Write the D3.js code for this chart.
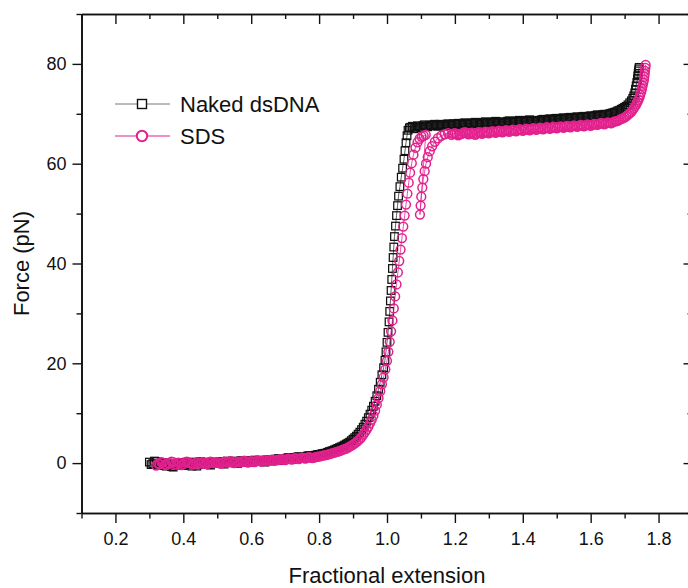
<!DOCTYPE html>
<html>
<head>
<meta charset="utf-8">
<script src="https://cdn.jsdelivr.net/npm/d3@7"></script>
<style>
  html, body { margin: 0; padding: 0; background: #fff; }
  svg { display: block; font-family: "Liberation Sans", Arial, sans-serif; }
  .axis path, .axis line { stroke: #111; }
  .axis text { fill: #111; font-size: 18px; font-family: "Liberation Sans", Arial, sans-serif; }
</style>
</head>
<body>
<svg id="chart" width="688" height="588"></svg>
<script>
// Force–extension traces as [fractional extension, force (pN)] pairs
const nakedPoints = [
  [0.300,0.2],[0.305,-0.3],[0.310,-0.1],[0.315,0.4],[0.320,0.3],[0.325,-0.2],[0.330,-0.4],[0.335,0.0],
  [0.340,0.1],[0.345,-0.5],[0.350,-0.6],[0.355,-0.1],[0.360,-0.3],[0.365,-0.7],[0.370,-0.8],[0.375,-0.4],
  [0.380,-0.2],[0.385,0.0],[0.390,0.1],[0.395,-0.3],[0.400,-0.5],[0.405,-0.1],[0.410,0.2],[0.415,0.0],
  [0.420,-0.3],[0.425,-0.6],[0.430,0.0],[0.435,0.2],[0.440,-0.6],[0.445,-0.2],[0.450,0.3],[0.455,0.0],
  [0.460,-0.2],[0.465,0.2],[0.470,0.1],[0.475,-0.3],[0.480,-0.4],[0.485,0.1],[0.490,0.2],[0.495,-0.1],
  [0.500,0.0],[0.505,0.2],[0.510,0.3],[0.515,0.0],[0.520,-0.2],[0.525,0.2],[0.530,0.4],[0.535,0.1],
  [0.540,0.1],[0.545,0.4],[0.550,0.3],[0.555,0.0],[0.560,-0.1],[0.565,0.3],[0.570,0.5],[0.575,0.2],
  [0.580,0.2],[0.585,0.5],[0.590,0.4],[0.595,0.2],[0.600,0.1],[0.605,0.4],[0.610,0.6],[0.615,0.4],
  [0.620,0.3],[0.625,0.6],[0.630,0.5],[0.635,0.3],[0.640,0.2],[0.645,0.5],[0.650,0.7],[0.655,0.5],
  [0.660,0.4],[0.665,0.7],[0.670,0.6],[0.675,0.8],[0.680,0.9],[0.685,0.6],[0.690,0.5],[0.695,0.8],
  [0.700,0.8],[0.705,1.0],[0.710,1.1],[0.715,0.9],[0.720,0.7],[0.725,1.0],[0.730,1.0],[0.735,1.2],
  [0.740,1.3],[0.745,1.1],[0.750,0.9],[0.755,1.1],[0.760,1.2],[0.765,1.4],[0.770,1.5],[0.775,1.4],
  [0.780,1.4],[0.785,1.5],[0.790,1.6],[0.795,1.7],[0.800,1.7],[0.805,1.8],[0.810,1.9],[0.815,1.95],
  [0.820,2.0],[0.825,2.15],[0.830,2.3],[0.835,2.4],[0.840,2.5],[0.845,2.65],[0.850,2.8],[0.855,2.95],
  [0.860,3.1],[0.865,3.25],[0.870,3.4],[0.875,3.6],[0.880,3.8],[0.885,4.0],[0.890,4.2],[0.895,4.5],
  [0.900,4.8],[0.905,5.1],[0.910,5.4],[0.915,5.8],[0.920,6.2],[0.925,6.7],[0.930,7.2],[0.935,7.8],
  [0.940,8.4],[0.945,9.1],[0.950,9.8],[0.955,10.6],[0.960,11.4],[0.965,12.4],[0.970,13.5],[0.975,14.8],
  [0.980,16.2],[0.985,17.7],[0.990,19.1],[0.994,20.6],[0.997,22.3],[1.000,24.2],[1.003,26.2],[1.006,28.3],
  [1.008,30.4],[1.010,32.5],[1.012,34.6],[1.014,36.8],[1.016,39.0],[1.018,41.2],[1.020,43.3],[1.022,45.4],
  [1.025,47.5],[1.028,49.6],[1.031,51.6],[1.034,53.5],[1.038,55.4],[1.042,57.3],[1.046,59.1],[1.050,60.9],
  [1.053,62.6],[1.056,64.2],[1.059,65.6],[1.062,66.7],[1.066,67.2],
  [1.070,67.3],[1.075,67.5],[1.080,67.0],[1.085,67.4],[1.090,67.6],[1.095,67.3],[1.100,67.2],[1.105,67.6],
  [1.110,67.8],[1.115,67.5],[1.120,67.4],[1.125,67.7],[1.130,67.6],[1.135,67.8],[1.140,67.9],[1.145,67.6],
  [1.150,67.5],[1.155,67.9],[1.160,67.8],[1.165,67.6],[1.170,67.6],[1.175,67.9],[1.180,68.0],[1.185,67.8],
  [1.190,67.7],[1.195,68.0],[1.200,67.9],[1.205,68.0],[1.210,68.1],[1.215,67.9],[1.220,67.8],[1.225,68.1],
  [1.230,68.2],[1.235,68.0],[1.240,67.9],[1.245,68.1],[1.250,68.1],[1.255,68.2],[1.260,68.3],[1.265,68.1],
  [1.270,67.9],[1.275,68.2],[1.280,68.2],[1.285,68.3],[1.290,68.4],[1.295,68.2],[1.300,68.0],[1.305,68.2],
  [1.310,68.3],[1.315,68.4],[1.320,68.5],[1.325,68.3],[1.330,68.1],[1.335,68.3],[1.340,68.4],[1.345,68.3],
  [1.350,68.2],[1.355,68.5],[1.360,68.6],[1.365,68.4],[1.370,68.3],[1.375,68.4],[1.380,68.5],[1.385,68.6],
  [1.390,68.7],[1.395,68.5],[1.400,68.4],[1.405,68.5],[1.410,68.6],[1.415,68.7],[1.420,68.8],[1.425,68.6],
  [1.430,68.5],[1.435,68.6],[1.440,68.7],[1.445,68.6],[1.450,68.6],[1.455,68.8],[1.460,68.9],[1.465,68.8],
  [1.470,68.7],[1.475,68.9],[1.480,69.0],[1.485,68.9],[1.490,68.8],[1.495,69.0],[1.500,69.1],[1.505,69.0],
  [1.510,68.9],[1.515,69.1],[1.520,69.2],[1.525,69.1],[1.530,69.0],[1.535,69.2],[1.540,69.3],[1.545,69.2],
  [1.550,69.1],[1.555,69.3],[1.560,69.4],[1.565,69.3],[1.570,69.2],[1.575,69.4],[1.580,69.5],[1.585,69.4],
  [1.590,69.3],[1.595,69.5],[1.600,69.6],[1.605,69.5],[1.610,69.5],[1.615,69.7],[1.620,69.8],[1.625,69.7],
  [1.630,69.6],[1.635,69.8],[1.640,69.9],[1.645,69.9],[1.650,69.8],[1.655,70.0],[1.660,70.1],[1.665,70.2],
  [1.670,70.3],[1.675,70.4],[1.680,70.6],[1.685,70.7],[1.690,70.9],[1.695,71.1],[1.700,71.3],[1.705,71.5],
  [1.710,71.8],[1.715,72.2],[1.720,72.6],[1.724,73.1],[1.727,73.6],[1.730,74.2],[1.732,74.9],[1.734,75.6],
  [1.736,76.3],[1.738,77.0],[1.739,77.6],[1.740,78.1],[1.741,78.6],[1.742,79.0],[1.743,79.3]
];

const sdsPoints = [
  [0.320,-0.5],[0.325,-0.1],[0.330,-0.2],[0.335,0.2],[0.340,0.1],[0.345,-0.3],[0.350,-0.4],[0.355,0.0],
  [0.360,-0.1],[0.365,0.3],[0.370,0.2],[0.375,-0.2],[0.380,-0.3],[0.385,0.1],[0.390,0.0],[0.395,-0.4],
  [0.400,-0.2],[0.405,0.1],[0.410,0.3],[0.415,0.1],[0.420,0.0],[0.425,-0.2],[0.430,-0.3],[0.435,0.0],
  [0.440,0.2],[0.445,0.0],[0.450,-0.1],[0.455,0.2],[0.460,0.1],[0.465,-0.1],[0.470,-0.2],[0.475,0.1],
  [0.480,0.3],[0.485,0.2],[0.490,0.0],[0.495,0.1],[0.500,0.2],[0.505,0.0],[0.510,-0.1],[0.515,0.1],
  [0.520,0.3],[0.525,0.2],[0.530,0.1],[0.535,0.3],[0.540,0.4],[0.545,0.1],[0.550,0.0],[0.555,0.2],
  [0.560,0.3],[0.565,0.1],[0.570,0.2],[0.575,0.4],[0.580,0.5],[0.585,0.3],[0.590,0.1],[0.595,0.3],
  [0.600,0.4],[0.605,0.3],[0.610,0.2],[0.615,0.4],[0.620,0.5],[0.625,0.4],[0.630,0.3],[0.635,0.5],
  [0.640,0.6],[0.645,0.5],[0.650,0.4],[0.655,0.6],[0.660,0.7],[0.665,0.6],[0.670,0.5],[0.675,0.6],
  [0.680,0.6],[0.685,0.8],[0.690,0.8],[0.695,0.7],[0.700,0.6],[0.705,0.8],[0.710,0.9],[0.715,0.8],
  [0.720,0.7],[0.725,0.9],[0.730,1.0],[0.735,0.9],[0.740,0.8],[0.745,1.0],[0.750,1.1],[0.755,1.0],
  [0.760,0.9],[0.765,1.1],[0.770,1.2],[0.775,1.1],[0.780,1.0],[0.785,1.1],[0.790,1.2],[0.795,1.3],
  [0.800,1.3],[0.805,1.4],[0.810,1.5],[0.815,1.55],[0.820,1.6],[0.825,1.7],[0.830,1.8],[0.835,1.9],
  [0.840,2.0],[0.845,2.1],[0.850,2.2],[0.855,2.3],[0.860,2.4],[0.865,2.55],[0.870,2.7],[0.875,2.8],
  [0.880,2.9],[0.885,3.1],[0.890,3.3],[0.895,3.5],[0.900,3.7],[0.905,3.95],[0.910,4.2],[0.915,4.5],
  [0.920,4.8],[0.925,5.2],[0.930,5.7],[0.935,6.2],[0.940,6.7],[0.945,7.3],[0.950,8.0],[0.955,8.7],
  [0.960,9.5],[0.965,10.5],[0.970,11.7],[0.975,13.0],[0.980,14.4],[0.985,15.8],[0.990,17.2],[0.995,18.8],
  [1.000,20.5],[1.004,22.3],[1.008,24.3],[1.012,26.4],[1.016,28.6],[1.020,31.0],[1.024,33.4],[1.028,35.8],
  [1.032,38.2],[1.036,40.5],[1.040,42.8],[1.044,45.1],[1.048,47.4],[1.052,49.6],[1.056,51.8],[1.060,54.0],
  [1.064,56.2],[1.068,58.2],[1.073,60.1],[1.078,61.8],[1.084,63.2],[1.090,64.3],[1.096,65.0],[1.102,65.4],
  [1.108,65.6],[1.114,65.8],
  [1.097,49.8],[1.099,51.6],[1.101,53.4],[1.104,55.2],[1.107,56.9],[1.111,58.5],[1.115,60.0],[1.120,61.3],
  [1.126,62.5],[1.133,63.5],[1.141,64.4],[1.150,65.1],[1.160,65.6],[1.170,65.9],[1.180,66.1],
  [1.190,65.8],[1.195,66.0],[1.200,66.1],[1.205,65.9],[1.210,65.7],[1.215,65.9],[1.220,66.0],[1.225,66.2],
  [1.230,66.3],[1.235,66.1],[1.240,65.9],[1.245,66.1],[1.250,66.2],[1.255,66.0],[1.260,65.8],[1.265,66.1],
  [1.270,66.3],[1.275,66.2],[1.280,66.0],[1.285,66.2],[1.290,66.4],[1.295,66.3],[1.300,66.1],[1.305,66.3],
  [1.310,66.5],[1.315,66.4],[1.320,66.2],[1.325,66.4],[1.330,66.6],[1.335,66.5],[1.340,66.3],[1.345,66.5],
  [1.350,66.7],[1.355,66.6],[1.360,66.4],[1.365,66.6],[1.370,66.8],[1.375,66.7],[1.380,66.5],[1.385,66.7],
  [1.390,66.9],[1.395,66.8],[1.400,66.6],[1.405,66.8],[1.410,67.0],[1.415,66.9],[1.420,66.7],[1.425,66.9],
  [1.430,67.1],[1.435,67.0],[1.440,66.8],[1.445,67.0],[1.450,67.2],[1.455,67.1],[1.460,66.9],[1.465,67.1],
  [1.470,67.3],[1.475,67.2],[1.480,67.0],[1.485,67.2],[1.490,67.4],[1.495,67.3],[1.500,67.1],[1.505,67.3],
  [1.510,67.5],[1.515,67.4],[1.520,67.2],[1.525,67.4],[1.530,67.6],[1.535,67.5],[1.540,67.3],[1.545,67.5],
  [1.550,67.7],[1.555,67.6],[1.560,67.4],[1.565,67.6],[1.570,67.8],[1.575,67.7],[1.580,67.5],[1.585,67.7],
  [1.590,67.9],[1.595,67.8],[1.600,67.6],[1.605,67.8],[1.610,68.0],[1.615,67.9],[1.620,67.8],[1.625,68.0],
  [1.630,68.2],[1.635,68.1],[1.640,67.9],[1.645,68.1],[1.650,68.3],[1.655,68.2],[1.660,68.1],[1.665,68.3],
  [1.670,68.5],[1.675,68.5],[1.680,68.6],[1.685,68.8],[1.690,69.0],[1.695,69.1],[1.700,69.3],[1.705,69.5],
  [1.710,69.8],[1.715,70.1],[1.720,70.4],[1.724,70.8],[1.728,71.2],[1.732,71.6],[1.735,72.0],[1.738,72.4],
  [1.741,72.8],[1.744,73.3],[1.746,73.8],[1.749,74.4],[1.751,75.0],[1.753,75.6],[1.755,76.2],[1.757,76.8],
  [1.758,77.4],[1.759,78.0],[1.760,78.6],[1.761,79.2],[1.762,79.8]
];

const seriesNames = ["Naked dsDNA", "SDS"];
const xMajorTicks = [0.2, 0.4, 0.6, 0.8, 1.0, 1.2, 1.4, 1.6, 1.8];
const xMinorTicks = [0.1, 0.3, 0.5, 0.7, 0.9, 1.1, 1.3, 1.5, 1.7, 1.9];
const yMajorTicks = [0, 20, 40, 60, 80];
const yMinorTicks = [-10, 10, 30, 50, 70, 90];

const svg = d3.select("#chart");
const frame = { left: 81.5, right: 692.5, top: 14, bottom: 513 };

const x = d3.scaleLinear().domain([0.1, 1.9]).range([frame.left, frame.right]);
const y = d3.scaleLinear().domain([-10, 90]).range([frame.bottom, frame.top]);

const black = "#111";
const pink = "#e3218e";

// Axes: labelled bottom/left, tick-only top/right (ticks pointing inward)
function styleAxis(g) {
  g.classed("axis", true);
  g.select(".domain").attr("stroke-width", 1.6);
  g.selectAll(".tick line").attr("stroke-width", 1.4);
}

svg.append("g").attr("transform", `translate(0,${frame.bottom})`)
  .call(d3.axisBottom(x).tickValues(xMinorTicks).tickSize(5.5).tickFormat("").tickSizeOuter(0))
  .call(styleAxis);
svg.append("g").attr("transform", `translate(0,${frame.bottom})`)
  .call(d3.axisBottom(x).tickValues(xMajorTicks).tickSize(10).tickPadding(9)
    .tickFormat(d3.format(".1f")).tickSizeOuter(0))
  .call(styleAxis);

svg.append("g").attr("transform", `translate(0,${frame.top})`)
  .call(d3.axisBottom(x).tickValues(xMinorTicks).tickSize(5).tickFormat("").tickSizeOuter(0))
  .call(styleAxis);
svg.append("g").attr("transform", `translate(0,${frame.top})`)
  .call(d3.axisBottom(x).tickValues(xMajorTicks).tickSize(10).tickFormat("").tickSizeOuter(0))
  .call(styleAxis);

svg.append("g").attr("transform", `translate(${frame.left},0)`)
  .call(d3.axisLeft(y).tickValues(yMinorTicks).tickSize(5).tickFormat("").tickSizeOuter(0))
  .call(styleAxis);
svg.append("g").attr("transform", `translate(${frame.left},0)`)
  .call(d3.axisLeft(y).tickValues(yMajorTicks).tickSize(9).tickPadding(6).tickSizeOuter(0))
  .call(styleAxis);

svg.append("g").attr("transform", `translate(${frame.right},0)`)
  .call(d3.axisLeft(y).tickValues(yMinorTicks).tickSize(5).tickFormat("").tickSizeOuter(0))
  .call(styleAxis);
svg.append("g").attr("transform", `translate(${frame.right},0)`)
  .call(d3.axisLeft(y).tickValues(yMajorTicks).tickSize(9).tickFormat("").tickSizeOuter(0))
  .call(styleAxis);

// Axis titles
svg.append("text")
  .attr("x", (frame.left + frame.right) / 2).attr("y", 583)
  .attr("text-anchor", "middle")
  .attr("font-size", 22).attr("fill", black)
  .text("Fractional extension");

svg.append("text")
  .attr("transform", `translate(29,${(frame.top + frame.bottom) / 2}) rotate(-90)`)
  .attr("text-anchor", "middle")
  .attr("font-size", 22).attr("fill", black)
  .text("Force (pN)");

// Data traces
const line = d3.line().x(d => x(d[0])).y(d => y(d[1]));
const plot = svg.append("g");

plot.append("path").datum(nakedPoints)
  .attr("d", line).attr("fill", "none")
  .attr("stroke", "#333").attr("stroke-width", 0.8);
plot.append("g").selectAll("rect").data(nakedPoints).join("rect")
  .attr("x", d => x(d[0]) - 3.8).attr("y", d => y(d[1]) - 3.8)
  .attr("width", 7.6).attr("height", 7.6)
  .attr("fill", "none").attr("stroke", black).attr("stroke-width", 1.25);

plot.append("path").datum(sdsPoints)
  .attr("d", line).attr("fill", "none")
  .attr("stroke", pink).attr("stroke-width", 0.8);
plot.append("g").selectAll("circle").data(sdsPoints).join("circle")
  .attr("cx", d => x(d[0])).attr("cy", d => y(d[1]))
  .attr("r", 4.4)
  .attr("fill", "none").attr("stroke", pink).attr("stroke-width", 1.5);

// Legend
const legend = svg.append("g");
const legendRows = [
  { name: seriesNames[0], y: 104, base: 112, line: "#777", stroke: black, shape: "square" },
  { name: seriesNames[1], y: 136, base: 143.5, line: "#e3218e", stroke: pink, shape: "circle" }
];
legendRows.forEach(r => {
  legend.append("line")
    .attr("x1", 115).attr("x2", 170).attr("y1", r.y).attr("y2", r.y)
    .attr("stroke", r.line).attr("stroke-width", 1);
  if (r.shape === "square") {
    legend.append("rect")
      .attr("x", 142 - 4.5).attr("y", r.y - 4.5).attr("width", 9).attr("height", 9)
      .attr("fill", "#fff").attr("stroke", r.stroke).attr("stroke-width", 1.4);
  } else {
    legend.append("circle")
      .attr("cx", 142).attr("cy", r.y).attr("r", 5.2)
      .attr("fill", "#fff").attr("stroke", r.stroke).attr("stroke-width", 2);
  }
  legend.append("text")
    .attr("x", 180).attr("y", r.base)
    .attr("font-size", 22).attr("fill", black)
    .text(r.name);
});
</script>
</body>
</html>
